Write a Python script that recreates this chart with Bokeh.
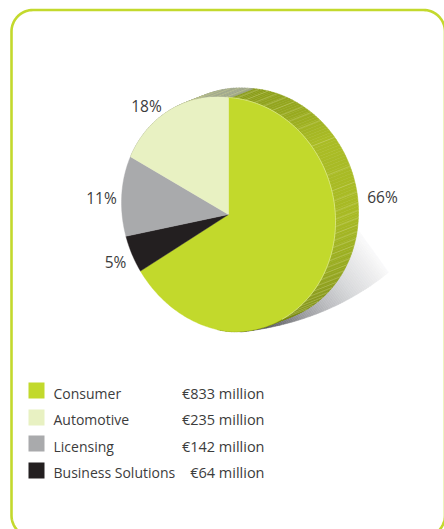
import numpy as np
from bokeh.plotting import figure
from bokeh.embed import file_html
from bokeh.resources import INLINE
from bokeh.core.properties import value

# Data
categories = ["Consumer", "Automotive", "Licensing", "Business Solutions"]
revenue_million = [833, 235, 142, 64]
amounts = ["€833 million", "€235 million", "€142 million", "€64 million"]
percent_labels = ["66%", "18%", "11%", "5%"]
colors = ["#c2d92c", "#e8f1c2", "#a9aaac", "#231f20"]

FONT = value("Open Sans")
TEXT = "#3c3c3c"
W, H = 444, 529
p = figure(width=W, height=H, x_range=(0, W), y_range=(H, 0),
           toolbar_location=None, output_backend="svg",
           x_axis_location=None, y_axis_location=None, min_border=0,
           outline_line_color=None, background_fill_color="white")
p.grid.visible = False

cx, cy, rx, ry = 228.0, 214.0, 107.0, 117.0
shear_right, shear_left = 7.0, 12.0   # the drawn disc is slightly skewed
ox, oy = 23.0, -9.0     # extrusion of the disc
total = sum(revenue_million)
sweep = [v / total * 360 for v in revenue_million]


def ell(t, dx=0.0, dy=0.0):
    r = np.radians(t)
    sn = np.sin(r)
    return cx + dx + rx * sn, cy + dy - ry * np.cos(r) + np.where(sn > 0, shear_right, shear_left) * sn


def lerp_hex(stops, t):
    ts = [s[0] for s in stops]
    rgb = [np.interp(t, ts, [int(s[1][i:i + 2], 16) for s in stops]) for i in (1, 3, 5)]
    return "#%02x%02x%02x" % tuple(int(round(v)) for v in rgb)


def clip(poly, d, lim, keep_above):
    """Clip a polygon by the half-plane dot(pt, d) >= lim (or <= lim)."""
    out = []
    sign = 1 if keep_above else -1
    for i in range(len(poly)):
        a, b = poly[i], poly[(i + 1) % len(poly)]
        fa = sign * (a[0] * d[0] + a[1] * d[1] - lim)
        fb = sign * (b[0] * d[0] + b[1] * d[1] - lim)
        if fa >= 0:
            out.append(a)
        if fa * fb < 0:
            u = fa / (fa - fb)
            out.append((a[0] + u * (b[0] - a[0]), a[1] + u * (b[1] - a[1])))
    return out


# frame
fx0, fx1, fy0, fy1, fr = 11.0, 444.5, 9.5, 536.5, 21.5
a = np.radians(np.arange(0, 91, 5))
fxs = np.concatenate([fx0 + fr - fr * np.cos(a), fx1 - fr + fr * np.sin(a),
                      fx1 - fr + fr * np.cos(a), fx0 + fr - fr * np.sin(a), [fx0]])
fys = np.concatenate([fy0 + fr - fr * np.sin(a), fy0 + fr - fr * np.cos(a),
                      fy1 - fr + fr * np.sin(a), fy1 - fr + fr * np.cos(a), [fy0 + fr]])
p.line(fxs, fys, line_color="#c3d92d", line_width=2.6)

# shadow: outline cut into thin bands along a linear gradient
s = np.linspace(0, 1, 70)
P0, P1, P2 = (240.0, 331.5), (326.0, 322.0), (388.0, 272.0)
shadow_poly = [(cx, cy)] + list(zip((1 - s) ** 2 * P0[0] + 2 * s * (1 - s) * P1[0] + s ** 2 * P2[0],
                                    (1 - s) ** 2 * P0[1] + 2 * s * (1 - s) * P1[1] + s ** 2 * P2[1])) + [(354.0, 224.0)]
grad = (0.8, -0.6)
shadow_stops = [(0, "#3a3b3f"), (20, "#606165"), (53, "#9a9b9f"),
                (80, "#bdbec1"), (106, "#d8d9db"), (134, "#eeeeef"), (150, "#fcfcfc")]
sx, sy, sc = [], [], []
for g in np.arange(-10, 152, 2.0):
    band = clip(clip(shadow_poly, grad, g, True), grad, g + 2.0, False)
    if len(band) >= 3:
        sx.append([b[0] for b in band])
        sy.append([b[1] for b in band])
        sc.append(lerp_hex(shadow_stops, g + 1.0))
p.patches(sx, sy, fill_color=sc, line_color=sc, line_width=0.5)

# side wall of the disc
consumer_end = sweep[0]
auto_start = 360 - sweep[1]
side_stops = [(0, "#8a9c1c"), (30, "#97a91f"), (50, "#aabc26"), (90, "#a8ba25"),
              (110, "#9caf22"), (130, "#8d9e1b"), (150, "#7c8e12"), (175, "#768810")]
bx, by, bc = [], [], []
for t0 in np.arange(0, min(consumer_end, 185), 1.5):
    t1 = t0 + 1.5
    x0, y0 = ell(t0); x1, y1 = ell(t1)
    x2, y2 = ell(t1, ox, oy); x3, y3 = ell(t0, ox, oy)
    bx.append([x0, x1, x2, x3]); by.append([y0, y1, y2, y3])
    bc.append(lerp_hex(side_stops, t0 + 0.75))
for t0 in np.arange(auto_start, 360, 1.5):
    t1 = t0 + 1.5
    x0, y0 = ell(t0); x1, y1 = ell(t1)
    x2, y2 = ell(t1, ox, oy); x3, y3 = ell(t0, ox, oy)
    bx.append([x0, x1, x2, x3]); by.append([y0, y1, y2, y3])
    bc.append("#9fa68a")
p.patches(bx, by, fill_color=bc, line_color=bc, line_width=0.5)

# pale stripes across the wall
stripe_t = [4, 9, 14, 19, 24, 29, 34, 40, 51, 67, 75, 80, 85] + list(np.arange(89, 152, 3.5)) \
           + list(np.arange(auto_start + 20, 360, 5))
p.multi_line([[float(ell(t)[0]), float(ell(t, ox, oy)[0])] for t in stripe_t],
             [[float(ell(t)[1]), float(ell(t, ox, oy)[1])] for t in stripe_t],
             line_color="#d6de8e", line_width=0.7, line_alpha=0.5)

# pie face
order = [0, 3, 2, 1]   # clockwise from the top
start = 0.0
for k in order:
    end = start + sweep[k]
    ts = np.linspace(start, end, max(int(end - start), 2) + 1)
    ex, ey = ell(ts)
    p.patch(np.r_[cx, ex], np.r_[cy, ey], fill_color=colors[k], line_color=colors[k], line_width=0.4)
    start = end

ts = np.linspace(0, 150, 120)
ex, ey = ell(ts)
p.line(ex, ey, line_color="#dbe78a", line_width=0.8)

# percentage labels
label_x = [382, 146, 101, 115]
label_y = [196, 105, 197, 261]
p.text(label_x, label_y, text=percent_labels, text_font=FONT, text_font_size="15.5px",
       text_color=TEXT, text_align="center", text_baseline="middle")

# legend
row_y = [390, 417, 443, 470]
p.quad(left=[28] * 4, right=[44] * 4, top=[y - 8 for y in row_y], bottom=[y + 8 for y in row_y],
       fill_color=colors, line_color=None)
text_y = [392.5, 418.5, 445.5, 471.5]
p.text([53] * 4, text_y, text=categories, text_font=FONT, text_font_size="14px",
       text_color=TEXT, text_align="left", text_baseline="middle")
p.text([264] * 4, text_y, text=amounts, text_font=FONT, text_font_size="14.5px",
       text_color=TEXT, text_align="right", text_baseline="middle")

open("out.html", "w").write(file_html(p, INLINE))
